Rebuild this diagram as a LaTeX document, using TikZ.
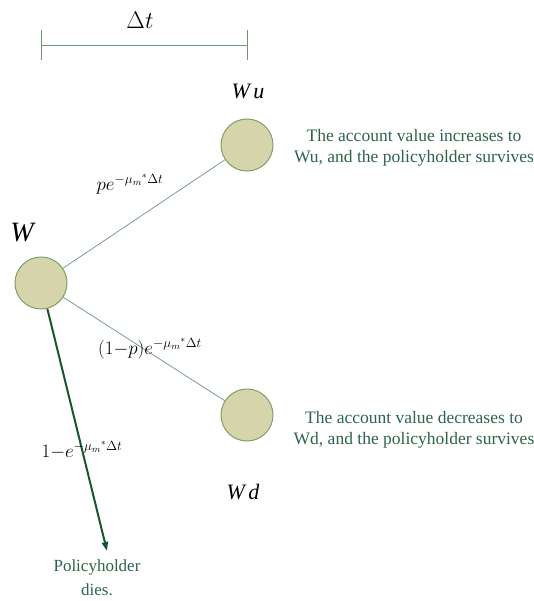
\documentclass[tikz,border=0pt]{standalone}
\usepackage{fix-cm}
\usepackage{fontspec}
\setmainfont{Liberation Serif}
\usepackage{tikz}
\usetikzlibrary{arrows.meta,positioning}
\definecolor{nodefill}{RGB}{214,212,170}
\definecolor{nodeedge}{RGB}{125,160,110}
\definecolor{branchgreen}{RGB}{120,160,135}
\definecolor{deathgreen}{RGB}{25,85,45}
\definecolor{textgreen}{RGB}{45,100,70}
\definecolor{bargreen}{RGB}{110,150,115}

\begin{document}
\begin{tikzpicture}[
  x=1pt,y=-1pt,
  state/.style={
    circle,
    draw=nodeedge,
    fill=nodefill,
    line width=1pt,
    minimum size=52pt,
    inner sep=0pt
  },
  branch/.style={
    line width=.8pt,
    draw=branchgreen
  },
  deatharr/.style={
    -{Triangle[length=9pt,width=6pt]},
    line width=2pt,
    draw=deathgreen
  },
  bar/.style={
    line width=.9pt,
    draw=bargreen
  },
  statelabel/.style={
    font=\fontsize{22}{24}\selectfont\itshape
  },
  problabel/.style={
    font=\fontsize{19}{21}\selectfont,
    inner sep=1pt
  },
  note/.style={
    font=\fontsize{17.5}{21.5}\selectfont,
    align=center,
    text=textgreen
  }
]
\useasboundingbox (0,0) rectangle (534,601);

% time step bar
\coordinate (BarL) at (41,45);
\coordinate (BarR) at (247,45);
\draw[bar] (BarL)--(BarR);
\draw[bar] (41,30)--(41,60);
\draw[bar] (247,30)--(247,60);
\node[font=\fontsize{24}{26}\selectfont] (dt) at (140,20) {$\Delta t$};

% states
\node[state] (W)  at (41,283)  {};
\node[state] (Wu) at (247,145) {};
\node[state] (Wd) at (247,415) {};

\node[statelabel,font=\fontsize{28}{30}\selectfont\itshape] (Wlab) at (22,233) {W};
\node[statelabel] (Wulab) at (248,91)  {W\,u};
\node[statelabel] (Wdlab) at (243,492) {W\,d};

% branches
\draw[branch] (W)--(Wu);
\draw[branch] (W)--(Wd);

\coordinate (DeathEnd) at (107,551);
\draw[deatharr] (W)--(DeathEnd);

% probabilities
\node[problabel] (pu) at (130,184)
  {$pe^{-\mu_m{}^{*}\Delta t}$};
\node[problabel] (pd) at (150,349)
  {$(1{-}p)e^{-\mu_m{}^{*}\Delta t}$};
\node[problabel] (pdie) at (82,450)
  {$1{-}e^{-\mu_m{}^{*}\Delta t}$};

% outcomes
\node[note] (upnote) at (414,148)
  {The account value increases to\\Wu, and the policyholder survives};
\node[note] (downnote) at (414,430)
  {The account value decreases to\\Wd, and the policyholder survives};
\node[note,font=\fontsize{17}{24}\selectfont] (dies) at (97,578)
  {Policyholder\\dies.};

\end{tikzpicture}
\end{document}
